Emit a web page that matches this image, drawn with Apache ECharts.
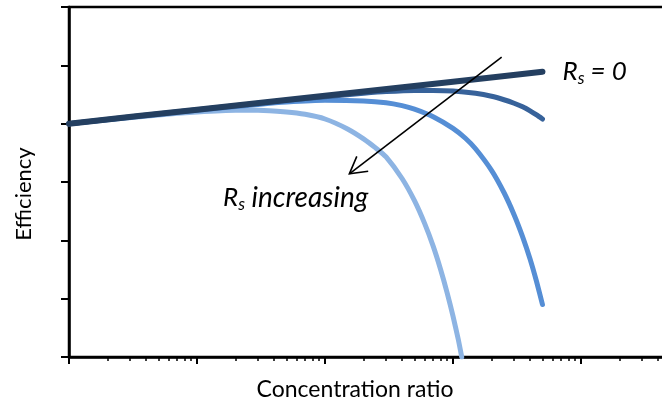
<!DOCTYPE html>
<html>
<head>
<meta charset="utf-8">
<script src="https://cdn.jsdelivr.net/npm/echarts@6/dist/echarts.min.js"></script>
<style>
  html, body { margin: 0; padding: 0; background: #ffffff; overflow: hidden; }
  #chart { width: 662px; height: 406px; }
</style>
</head>
<body>
<div id="chart"></div>
<script>
// Efficiency versus concentration ratio for increasing series resistance R_s
const ratioRs0 = [1, 10, 100, 1000, 5000];
const effRs0   = [40.0, 42.4, 44.8, 47.2, 48.9];

const ratioLow = [1, 10, 50, 100, 200, 300, 500, 700, 1000, 1500, 2000, 2500, 3000, 3500, 4000, 4500, 5000];
const effLow   = [40.0, 42.4, 44.0, 44.6, 45.2, 45.5, 45.7, 45.7, 45.6, 45.2, 44.7, 44.1, 43.5, 42.9, 42.2, 41.5, 40.8];

const ratioMid = [1, 10, 30, 50, 100, 200, 300, 400, 500, 700, 1000, 1250, 1500, 2000, 2500, 3000, 3500, 4000, 4500, 5000];
const effMid   = [40.0, 42.3, 43.3, 43.7, 44.0, 43.9, 43.6, 43.1, 42.5, 41.2, 39.2, 37.5, 35.7, 32.0, 28.2, 24.4, 20.6, 16.8, 12.9, 9.0];

const ratioHigh = [1, 5, 10, 20, 30, 50, 70, 100, 150, 200, 250, 300, 400, 500, 600, 700, 800, 900, 1000, 1100, 1170];
const effHigh   = [40.0, 41.5, 42.0, 42.3, 42.3, 42.0, 41.6, 40.8, 39.1, 37.4, 35.8, 34.3, 30.6, 26.8, 22.9, 19.0, 15.0, 11.0, 7.0, 3.0, 0.0];

// Arrow annotation (data space): tail and tip
const arrowTail = [2400, 51.4];
const arrowTip  = [155, 31.4];

const FONT = 'Lato, "Open Sans", sans-serif';

function pairs(xs, ys) { return xs.map((x, i) => [x, ys[i]]); }

function curve(name, xs, ys, color, width, extra) {
  return Object.assign({
    name: name,
    type: 'line',
    data: pairs(xs, ys),
    showSymbol: false,
    symbol: 'none',
    smooth: 0.2,
    lineStyle: { color: color, width: width, cap: 'round', join: 'round' },
    animation: false,
    silent: true
  }, extra || {});
}

const subRich = {
  r: { fontFamily: FONT, fontStyle: 'italic', fontSize: 26, color: '#000', lineHeight: 30 },
  s: { fontFamily: FONT, fontStyle: 'italic', fontSize: 17, color: '#000', lineHeight: 17, padding: [14, 0, 0, 0], verticalAlign: 'bottom' },
  t: { fontFamily: FONT, fontStyle: 'italic', fontSize: 26, color: '#000', lineHeight: 30 },
  w: { fontFamily: FONT, fontStyle: 'italic', fontSize: 28, color: '#000', lineHeight: 30 }
};

const chart = echarts.init(document.getElementById('chart'), null, { renderer: 'canvas' });

chart.setOption({
  animation: false,
  backgroundColor: '#ffffff',
  grid: {
    left: 69, top: 7, width: 640, height: 350,
    outerBoundsMode: 'none',
    containLabel: false,
    show: true, borderColor: '#000', borderWidth: 2.5, backgroundColor: 'transparent'
  },
  xAxis: {
    type: 'log', logBase: 10, min: 1, max: 100000,
    name: 'Concentration ratio', nameLocation: 'middle', nameGap: 21,
    nameTextStyle: { fontFamily: FONT, fontSize: 23, color: '#000', padding: [0, 68, 0, 0] },
    axisLine: { show: true, onZero: false, lineStyle: { color: '#000', width: 2.5 } },
    axisTick: { show: true, length: 7, lineStyle: { color: '#000', width: 2 } },
    minorTick: { show: true, splitNumber: 9, length: 4, lineStyle: { color: '#000', width: 1.5 } },
    axisLabel: { show: false },
    splitLine: { show: false },
    minorSplitLine: { show: false }
  },
  yAxis: {
    type: 'value', min: 0, max: 60, interval: 10,
    name: 'Efficiency', nameLocation: 'middle', nameGap: 34, nameRotate: 90,
    nameTextStyle: { fontFamily: FONT, fontSize: 22, color: '#000', padding: [0, 24, 0, 0] },
    axisLine: { show: true, lineStyle: { color: '#000', width: 2.5 } },
    axisTick: { show: true, length: 8, lineStyle: { color: '#000', width: 2 } },
    axisLabel: { show: false },
    splitLine: { show: false }
  },
  series: [
    curve('high', ratioHigh, effHigh, '#8DB4E3', 5),
    curve('mid', ratioMid, effMid, '#558ED5', 5),
    curve('low', ratioLow, effLow, '#37629A', 5),
    curve('zero', ratioRs0, effRs0, '#243F60', 6, {
      endLabel: {
        show: true,
        distance: 20,
        formatter: '{r|R}{s|s}{t| = 0}',
        rich: subRich
      }
    })
  ]
});

// Arrow pointing in the direction of increasing R_s, plus its label
function drawAnnotations() {
  const p0 = chart.convertToPixel({ xAxisIndex: 0, yAxisIndex: 0 }, arrowTail);
  const p1 = chart.convertToPixel({ xAxisIndex: 0, yAxisIndex: 0 }, arrowTip);
  const ang = Math.atan2(p0[1] - p1[1], p0[0] - p1[0]);
  const headLen = 19, spread = 29.5 * Math.PI / 180;
  const h1 = [p1[0] + headLen * Math.cos(ang + spread), p1[1] + headLen * Math.sin(ang + spread)];
  const h2 = [p1[0] + headLen * Math.cos(ang - spread), p1[1] + headLen * Math.sin(ang - spread)];
  chart.setOption({
    graphic: [
      {
        type: 'polyline', silent: true, z: 10,
        shape: { points: [p0, p1] },
        style: { stroke: '#000', lineWidth: 1.6, fill: null }
      },
      {
        type: 'polyline', silent: true, z: 10,
        shape: { points: [h1, p1, h2] },
        style: { stroke: '#000', lineWidth: 1.6, fill: null, lineJoin: 'miter' }
      },
      {
        type: 'text', silent: true, z: 10,
        left: 223, top: 182,
        style: {
          text: '{r|R}{s|s}{w| increasing}',
          rich: subRich
        }
      }
    ]
  });
}
drawAnnotations();
</script>
</body>
</html>
